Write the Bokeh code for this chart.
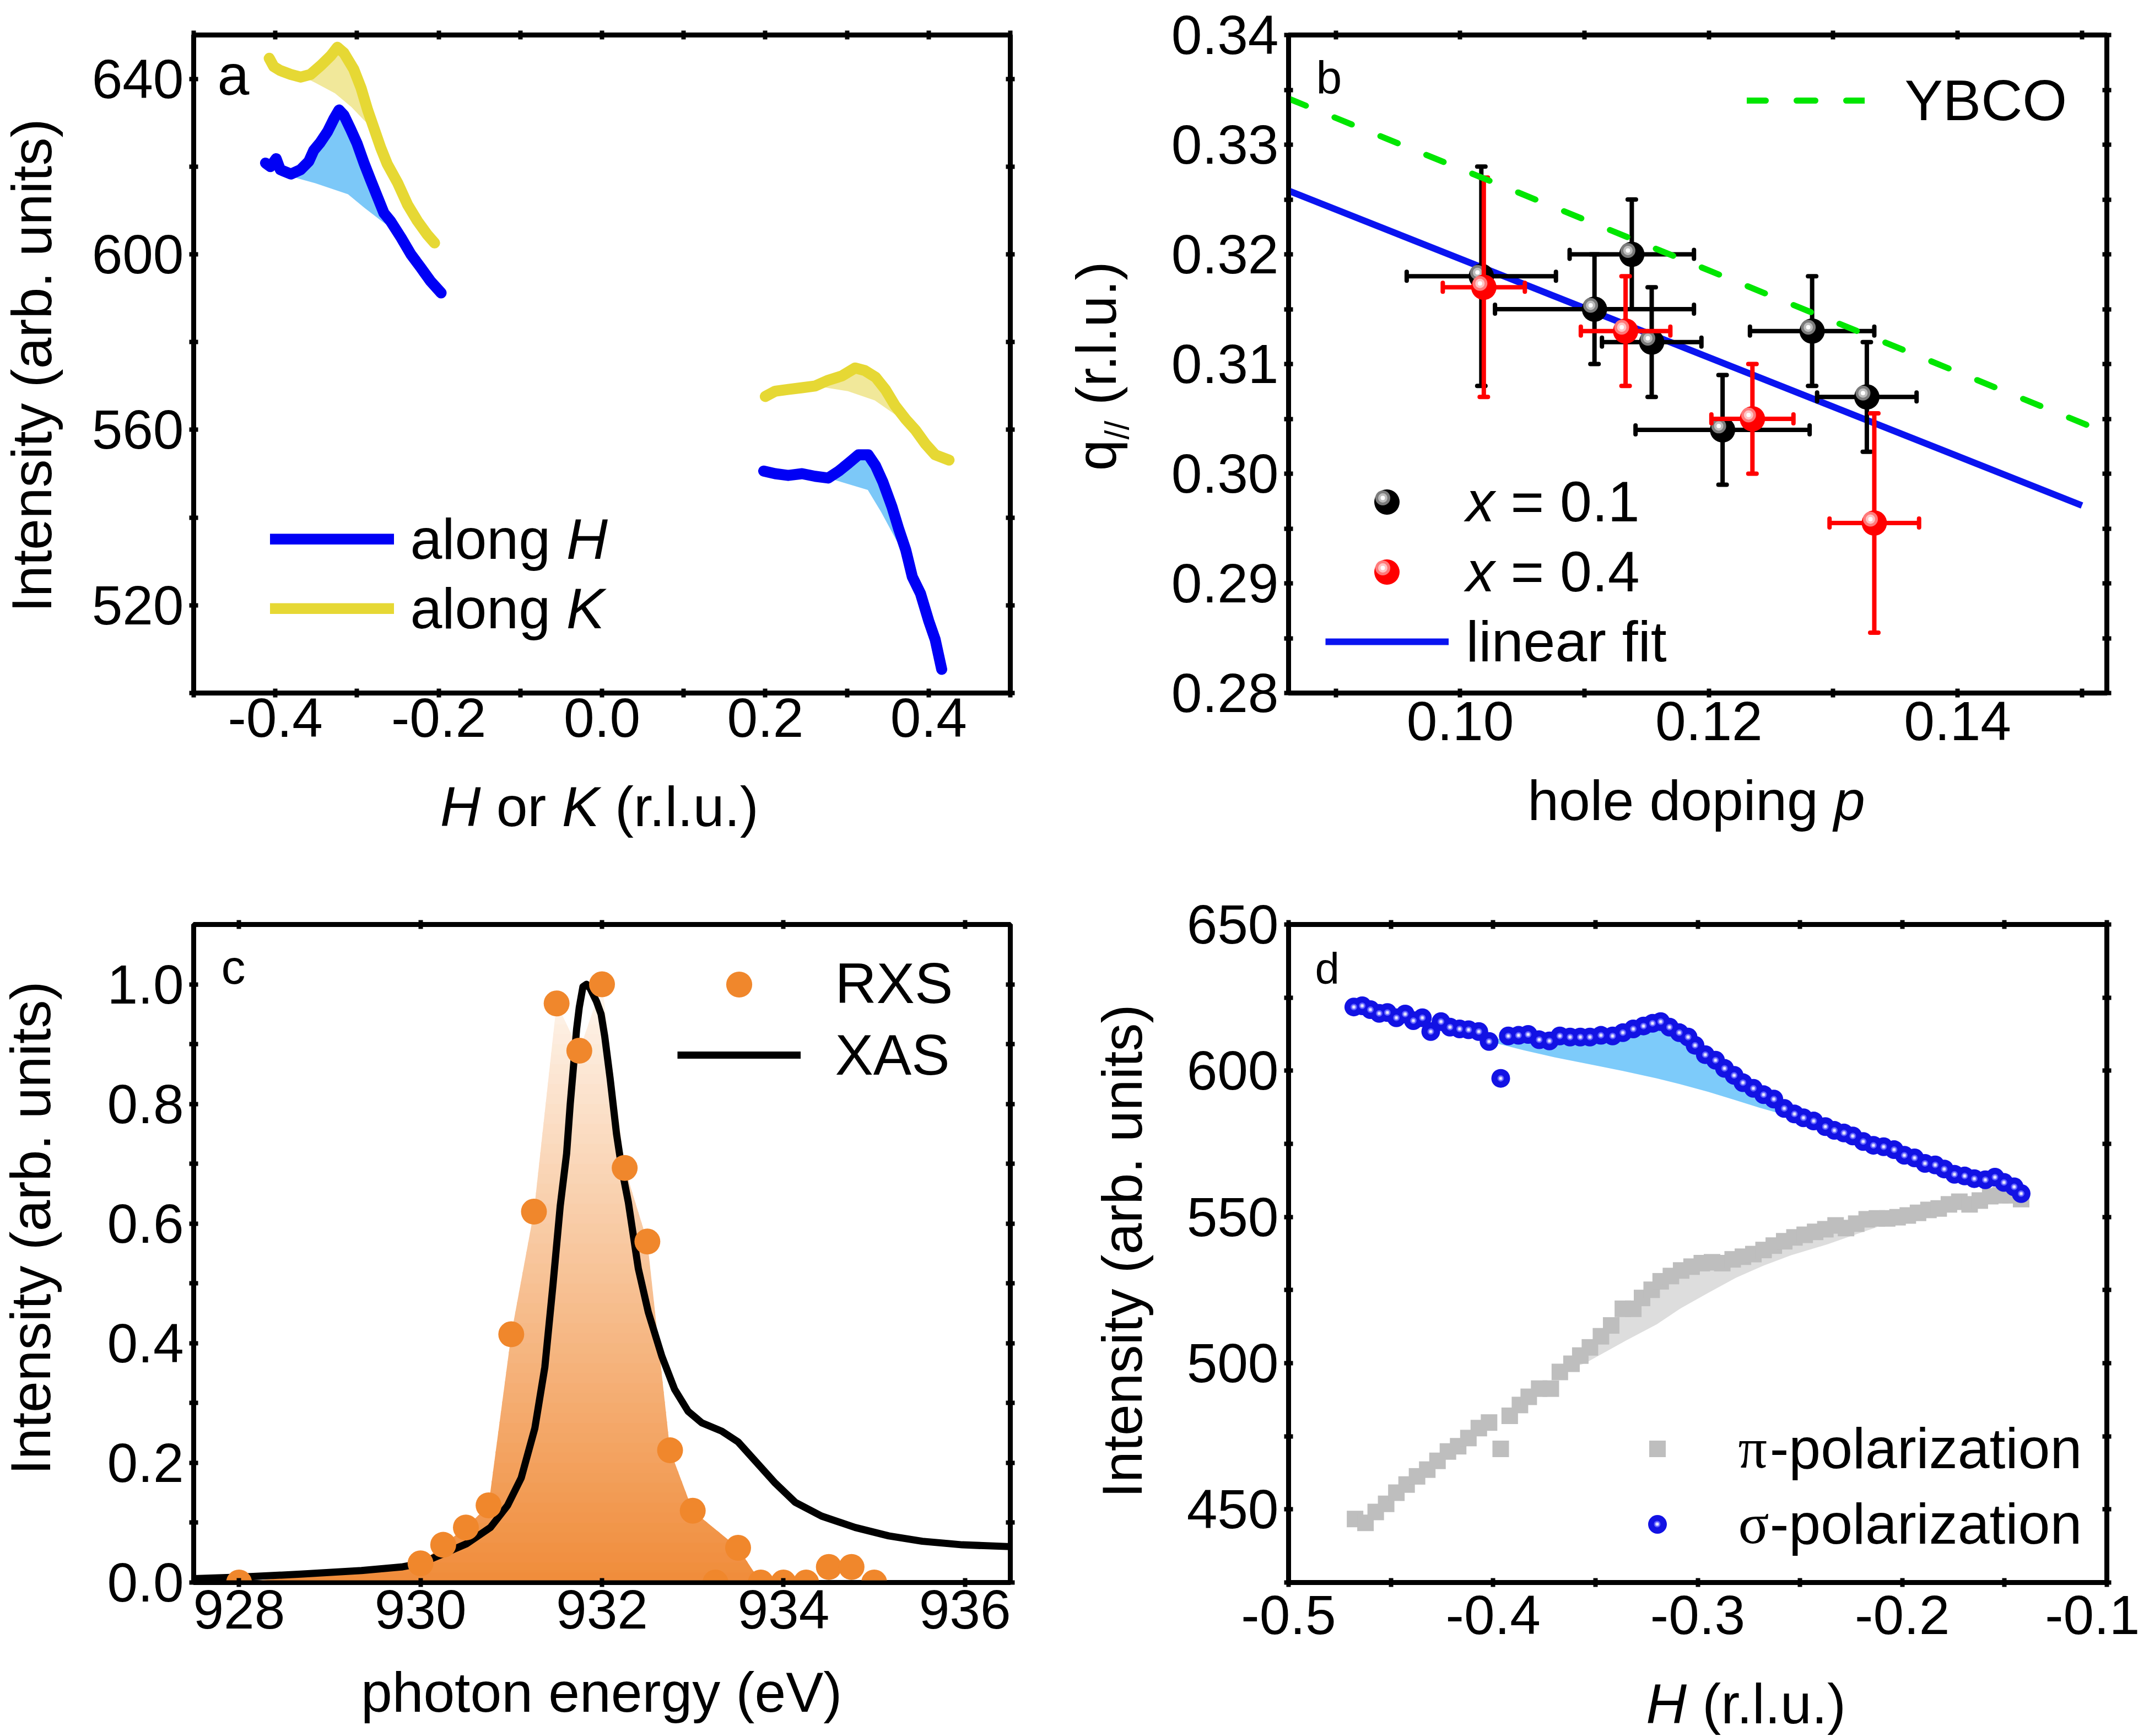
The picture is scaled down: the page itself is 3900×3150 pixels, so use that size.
import numpy as np
from bokeh.plotting import figure
from bokeh.layouts import column, row
from bokeh.models import (Range1d, LinearAxis, FixedTicker, PrintfTickFormatter,
                          CustomJSTickFormatter, Label, Legend, LegendItem)
from bokeh.core.properties import value
from bokeh.embed import file_html
from bokeh.resources import INLINE

SANS = "Liberation Sans"
SERIF = "Liberation Serif"

# ---------------- (a) scans along H and along K ----------------
a_negH_x = [-0.412, -0.406, -0.399, -0.394, -0.381, -0.369, -0.359, -0.353, -0.345, -0.336,
            -0.328, -0.322, -0.316, -0.308, -0.300, -0.291, -0.283, -0.275, -0.267, -0.259,
            -0.246, -0.234, -0.222, -0.210, -0.197]
a_negH_y = [620.8, 620.0, 621.8, 619.3, 618.3, 619.3, 621.2, 623.7, 625.5, 628.0,
            631.0, 632.9, 631.7, 628.6, 625.3, 620.6, 616.8, 613.1, 609.4, 607.6,
            603.8, 600.0, 597.0, 593.9, 591.2]
a_negK_x = [-0.4075, -0.402, -0.394, -0.381, -0.369, -0.357, -0.344, -0.332, -0.324, -0.316,
            -0.304, -0.295, -0.287, -0.279, -0.271, -0.263, -0.250, -0.238, -0.226, -0.214, -0.205]
a_negK_y = [644.7, 642.8, 641.9, 641.0, 640.4, 641.0, 643.1, 645.3, 647.2, 645.9,
            642.2, 637.9, 632.9, 628.6, 624.3, 620.6, 616.2, 611.3, 607.6, 604.5, 602.6]
a_posH_x = [0.198, 0.212, 0.228, 0.245, 0.261, 0.277, 0.290, 0.302, 0.314, 0.326,
            0.335, 0.344, 0.355, 0.363, 0.372, 0.380, 0.390, 0.400, 0.408, 0.416]
a_posH_y = [550.6, 550.0, 549.6, 550.0, 549.4, 549.0, 550.6, 552.4, 554.3, 554.3,
            551.8, 548.1, 542.5, 537.6, 532.6, 526.5, 522.7, 516.5, 512.2, 505.4]
a_posK_x = [0.200, 0.212, 0.228, 0.245, 0.261, 0.277, 0.294, 0.310, 0.322, 0.335,
            0.347, 0.359, 0.372, 0.384, 0.396, 0.408, 0.425]
a_posK_y = [567.6, 568.8, 569.2, 569.6, 570.0, 571.3, 572.3, 574.1, 573.5, 572.0,
            569.2, 565.5, 562.4, 559.9, 556.8, 554.3, 553.1]
# background under the CDW peaks
a_bg_negH_x = [-0.384, -0.351, -0.311, -0.291, -0.270, -0.250]
a_bg_negH_y = [617.9, 616.2, 613.7, 610.6, 607.6, 604.8]
a_bg_negK_x = [-0.364, -0.351, -0.327, -0.307, -0.291, -0.278]
a_bg_negK_y = [640.3, 639.1, 636.7, 633.6, 630.5, 628.2]
a_bg_posH_x = [0.277, 0.3255, 0.3417, 0.3579, 0.376]
a_bg_posH_y = [549.0, 546.3, 541.3, 535.7, 529.5]
a_bg_posK_x = [0.261, 0.301, 0.334, 0.358, 0.378]
a_bg_posK_y = [570.0, 568.8, 566.7, 563.6, 561.1]

# ---------------- (b) CDW wave vector versus hole doping ----------------
b_p_x01 = [0.1017, 0.1108, 0.1138, 0.1154, 0.1211, 0.1283, 0.1327]
b_q_x01 = [0.318, 0.315, 0.320, 0.312, 0.304, 0.313, 0.307]
b_dp_x01 = [0.006, 0.008, 0.005, 0.004, 0.007, 0.005, 0.004]
b_dq_x01 = [0.010, 0.005, 0.005, 0.005, 0.005, 0.005, 0.005]
b_p_x04 = [0.1019, 0.1133, 0.1235, 0.1333]
b_q_x04 = [0.317, 0.313, 0.305, 0.2955]
b_dp_x04 = [0.0033, 0.0036, 0.0033, 0.0036]
b_dq_x04 = [0.010, 0.005, 0.005, 0.010]
b_fit_p = [0.0862, 0.150]
b_fit_q = [0.3258, 0.2971]
b_ybco_p = [0.0862, 0.152]
b_ybco_q = [0.3342, 0.3037]

# ---------------- (c) energy dependence ----------------
c_xas_E = [927.5, 928.0, 928.68, 929.35, 929.79, 930.0, 930.22, 930.51, 930.77, 930.96,
           931.11, 931.26, 931.37, 931.46, 931.54, 931.61, 931.65, 931.69, 931.72, 931.75,
           931.79, 931.83, 931.87, 931.94, 931.99, 932.03, 932.09, 932.16, 932.22, 932.29,
           932.40, 932.51, 932.66, 932.80, 932.95, 933.10, 933.32, 933.50, 933.69, 933.91,
           934.13, 934.42, 934.79, 935.16, 935.53, 935.97, 936.5]
c_xas_I = [0.0065, 0.009, 0.014, 0.020, 0.026, 0.032, 0.046, 0.065, 0.092, 0.129,
           0.175, 0.258, 0.360, 0.498, 0.630, 0.717, 0.800, 0.870, 0.925, 0.962,
           0.996, 1.0, 0.993, 0.971, 0.950, 0.913, 0.842, 0.750, 0.690, 0.636,
           0.525, 0.452, 0.378, 0.323, 0.286, 0.267, 0.253, 0.235, 0.203, 0.166,
           0.134, 0.111, 0.092, 0.078, 0.069, 0.063, 0.060]
c_rxs_E = [928.0, 930.0, 930.25, 930.5, 930.75, 931.0, 931.25, 931.5, 931.75, 932.0, 932.25,
           932.5, 932.75, 933.0, 933.25, 933.5, 933.75, 934.0, 934.25, 934.5, 934.75, 935.0]
c_rxs_I = [0.0, 0.032, 0.063, 0.092, 0.129, 0.415, 0.62, 0.968, 0.889, 1.0, 0.693,
           0.57, 0.221, 0.12, 0.0, 0.058, 0.0, 0.0, 0.0, 0.026, 0.026, 0.0]

# ---------------- (d) polarization dependence ----------------
d_sig_H = [-0.4681, -0.464, -0.460, -0.4557, -0.4517, -0.4473, -0.443, -0.439, -0.4346, -0.4305,
           -0.4255, -0.4211, -0.4164, -0.412, -0.407, -0.402, -0.3963, -0.3926, -0.3876, -0.3829,
           -0.3775, -0.3725, -0.3674, -0.3624, -0.3574, -0.3527, -0.3473, -0.3416, -0.3366, -0.3315,
           -0.3265, -0.3221, -0.3181, -0.3138, -0.309, -0.3047, -0.3013, -0.2963, -0.2913, -0.2869,
           -0.2822, -0.2779, -0.2728, -0.2678, -0.2628, -0.2577, -0.2527, -0.2483, -0.2433, -0.2376,
           -0.2332, -0.2285, -0.2242, -0.2191, -0.2141, -0.2091, -0.204, -0.199, -0.194, -0.1889,
           -0.1839, -0.1795, -0.1745, -0.1695, -0.1648, -0.1594, -0.1547, -0.1503, -0.1453, -0.1419]
d_sig_I = [621.8, 622.2, 620.9, 619.6, 619.9, 618.1, 619.4, 617.1, 618.1, 613.4,
           616.8, 614.9, 614.3, 614.0, 613.4, 610.0, 597.4, 611.9, 612.1, 612.4,
           610.6, 610.2, 611.9, 611.5, 611.5, 611.5, 612.1, 611.9, 613.0, 614.3,
           615.3, 616.2, 616.8, 614.9, 613.0, 611.5, 608.7, 605.5, 603.6, 600.8,
           598.4, 595.9, 594.0, 591.8, 590.3, 587.1, 585.2, 583.9, 582.8, 580.9,
           579.6, 578.7, 577.7, 575.8, 574.5, 574.0, 573.0, 571.1, 570.2, 568.3,
           567.8, 566.4, 564.6, 564.0, 563.1, 562.7, 563.6, 561.8, 560.3, 558.0]
d_pi_H = [-0.4675, -0.4624, -0.4574, -0.4523, -0.4473, -0.4423, -0.4372, -0.4322, -0.4272, -0.4221,
          -0.4171, -0.4121, -0.4070, -0.4020, -0.3963, -0.3919, -0.3869, -0.3826, -0.3775, -0.3718,
          -0.3674, -0.3617, -0.3574, -0.3527, -0.3473, -0.3423, -0.3366, -0.3315, -0.3272, -0.3225,
          -0.3181, -0.3131, -0.3081, -0.3030, -0.2980, -0.2930, -0.2880, -0.2829, -0.2779, -0.2728,
          -0.2678, -0.2628, -0.2577, -0.2527, -0.2477, -0.2426, -0.2376, -0.2326, -0.2275, -0.2225,
          -0.2174, -0.2124, -0.2074, -0.2023, -0.1973, -0.1923, -0.1872, -0.1822, -0.1772, -0.1721,
          -0.1671, -0.1621, -0.1570, -0.1520, -0.1470, -0.1419]
d_pi_I = [446.7, 445.4, 449.1, 451.9, 455.7, 458.5, 461.3, 463.6, 466.6, 469.8,
          471.6, 474.4, 477.8, 479.7, 470.7, 482.0, 485.7, 488.5, 491.3, 491.3,
          497.0, 499.8, 502.6, 505.4, 509.2, 512.9, 518.6, 518.6, 522.3, 525.1,
          528.0, 529.8, 531.7, 533.0, 534.2, 534.5, 534.2, 535.5, 536.4, 537.3,
          538.7, 540.2, 541.7, 543.0, 543.9, 544.9, 545.8, 547.1, 546.2, 547.7,
          549.2, 549.5, 549.5, 549.9, 550.5, 551.4, 552.4, 552.9, 554.3, 555.2,
          554.3, 555.6, 557.1, 557.4, 557.4, 556.1]
d_bg_sig_H = [-0.402, -0.385, -0.370, -0.350, -0.3366, -0.320, -0.3097, -0.295, -0.2829, -0.270, -0.256, -0.2483]
d_bg_sig_I = [610.0, 607.0, 604.6, 601.8, 599.9, 597.4, 595.6, 592.8, 590.2, 587.4, 584.6, 583.9]
d_bg_pi_H = [-0.3674, -0.355, -0.3352, -0.320, -0.3082, -0.295, -0.2813, -0.268, -0.2544, -0.2363, -0.225, -0.2124]
d_bg_pi_I = [497.0, 500.0, 507.7, 513.3, 518.8, 524.0, 529.2, 533.3, 536.9, 540.7, 543.5, 546.5]

# ---------------- page geometry (px, from the top-left of the page) ----------------
FH = 1194
TOP1, BOT1 = 63, 135      # borders above / below the frames of the upper row
TOP2, BOT2 = 110, 142     # ... and of the lower row
ROW1_H = TOP1 + FH + BOT1
ROW2_Y = 1677 - TOP2
XSTRIP1_H = ROW2_Y - ROW1_H
ROW2_H = TOP2 + FH + BOT2
XSTRIP2_Y = ROW2_Y + ROW2_H
XSTRIP2_H = 3150 - XSTRIP2_Y

FRAME_A = (351, TOP1, 1482, FH)     # left, top, width, height of each data frame
FRAME_B = (2338, TOP1, 1485, FH)
FRAME_C = (351, ROW2_Y + TOP2, 1482, FH)
FRAME_D = (2338, ROW2_Y + TOP2, 1485, FH)
BORDER_A = (221, 40, TOP1, BOT1)     # left, right, top, bottom borders of each panel
BORDER_B = (235, 60, TOP1, BOT1)
BORDER_C = (221, 40, TOP2, BOT2)
BORDER_D = (235, 60, TOP2, BOT2)
YA_W, YB_W = 130, 230               # widths of the strips holding the y titles

# Arial-compatible advance widths (em) used to place mixed-style text runs
CW = {' ': .278, '(': .333, ')': .333, '.': .278, '-': .333, '=': .584, '/': .278,
      'a': .556, 'b': .556, 'c': .5, 'd': .556, 'e': .556, 'f': .278, 'g': .556, 'h': .556,
      'i': .222, 'j': .222, 'k': .5, 'l': .222, 'm': .833, 'n': .556, 'o': .556, 'p': .556,
      'q': .556, 'r': .333, 's': .5, 't': .278, 'u': .556, 'v': .5, 'w': .722, 'x': .5,
      'y': .5, 'z': .5, 'A': .667, 'B': .667, 'C': .722, 'E': .667, 'H': .722, 'I': .278,
      'K': .667, 'O': .778, 'R': .722, 'S': .667, 'V': .667, 'X': .667, 'Y': .667,
      '\u03c0': .55, '\u03c3': .55}
MID = 0.355   # distance from baseline to the middle of capitals, in em


def text_width(s):
    return sum(CW.get(ch, 0.556) for ch in s)


def N(t, font=SANS):
    return (t, "normal", font, 1.0, 0.0)


def It(t):
    return (t, "italic", SANS, 1.0, 0.0)


def put_text(p, region, pieces, cx, cy, size, anchor="left", vertical=False):
    """Place a run of text pieces; (cx, cy) is the page position of the baseline.
    region is the page box (left, top, width, height) of the plot frame of p."""
    rl, rt, rw, rh = region
    rb = rt + rh
    widths = [text_width(t) * size * sc for (t, st, f, sc, sh) in pieces]
    total = sum(widths)
    pos = -total / 2 if anchor == "center" else 0.0
    for (t, st, f, sc, sh), w in zip(pieces, widths):
        lead = text_width(t[:len(t) - len(t.lstrip())]) * size * sc
        s = t.strip()
        if vertical:
            x = cx - rl + sh * size - MID * size * sc
            y = (rb - cy) + pos + lead
            ang = np.pi / 2
        else:
            x = cx - rl + pos + lead
            y = (rb - cy) - sh * size + MID * size * sc
            ang = 0.0
        p.add_layout(Label(x=x, y=y, x_units="screen", y_units="screen", text=s,
                           text_font=f, text_font_style=st,
                           text_font_size=f"{size * sc:.1f}px", text_color="black",
                           text_align="left", text_baseline="middle", angle=ang))
        pos += w


def key(p, frame, renderers, cx, cy, gw, gh):
    """Legend swatch of the given renderers centred on a page position."""
    fl, ft, fw, fh = frame
    fb = ft + fh
    gw, gh = int(round(gw)), int(round(gh))
    leg = Legend(items=[LegendItem(label=value(""), renderers=renderers)],
                 location=(cx - fl - gw / 2, fb - cy - gh / 2),
                 glyph_width=gw, glyph_height=gh, padding=0, margin=0, spacing=0,
                 label_standoff=0, label_width=0, label_height=0,
                 label_text_font_size="1px", border_line_color=None,
                 background_fill_color=None)
    p.add_layout(leg)


def make_panel(xr, yr, frame, border):
    fl, ft, fw, fh = frame
    bl, br, bt, bb = border
    p = figure(x_range=Range1d(*xr), y_range=Range1d(*yr), frame_width=fw, frame_height=fh,
               min_border_left=bl, min_border_right=br, min_border_top=bt, min_border_bottom=bb,
               output_backend="svg", toolbar_location=None,
               background_fill_color="white", border_fill_color="white",
               outline_line_color="black", outline_line_width=9)
    p.grid.visible = False
    p.add_layout(LinearAxis(), "above")
    p.add_layout(LinearAxis(), "right")
    return p


def make_strip(w, h, top=0, bottom=0):
    """Blank figure that only carries text; its frame spans the full width."""
    s = figure(frame_width=w, frame_height=h - top - bottom,
               x_range=Range1d(0, w), y_range=Range1d(0, h - top - bottom),
               min_border_left=0, min_border_right=0, min_border_top=top,
               min_border_bottom=bottom, output_backend="svg", toolbar_location=None,
               x_axis_type=None, y_axis_type=None, outline_line_color=None,
               background_fill_color="white", border_fill_color="white")
    s.grid.visible = False
    return s


def set_axes(p, xt, xm, xfmt, yt, ym, yfmt, xstand, ystand=10):
    for ax in p.xaxis:
        ax.ticker = FixedTicker(ticks=xt, minor_ticks=xm)
    for ax in p.yaxis:
        ax.ticker = FixedTicker(ticks=yt, minor_ticks=ym)
    for ax in p.axis:
        ax.axis_line_color = "black"
        ax.axis_line_width = 8
        ax.major_tick_line_color = "black"
        ax.major_tick_line_width = 8
        ax.major_tick_in = 8
        ax.major_tick_out = 8
        ax.minor_tick_line_color = "black"
        ax.minor_tick_line_width = 8
        ax.minor_tick_in = 8
        ax.minor_tick_out = 8
        ax.major_label_text_font = SANS
        ax.major_label_text_color = "black"
        ax.major_label_text_font_size = "100px"
    p.below[0].formatter = PrintfTickFormatter(format=xfmt)
    p.below[0].major_label_standoff = xstand
    p.left[0].formatter = PrintfTickFormatter(format=yfmt)
    p.left[0].major_label_standoff = ystand
    for ax in (p.above[0], p.right[0]):
        ax.formatter = CustomJSTickFormatter(code="return ''")
        ax.major_label_text_font_size = "1px"
        ax.major_label_standoff = 0


def shade_peak(p, x, y, bx, by, color):
    """Fill between a scan and its smooth background."""
    x, y, bx, by = map(np.asarray, (x, y, bx, by))
    base = np.interp(x, bx, by)
    m = (x > bx[0]) & (x < bx[-1]) & (y >= base)
    px = np.concatenate([[bx[0]], x[m], [bx[-1]], bx[::-1]])
    py = np.concatenate([[by[0]], y[m], [by[-1]], by[::-1]])
    p.patch(px, py, fill_color=color, line_color=None)


def sphere(p, x, y, size, base, rings, dx=0.0, dy=0.0):
    r0 = p.scatter(x, y, size=size, marker="circle", fill_color=base, line_color=None)
    hx = [v + dx for v in x]
    hy = [v + dy for v in y]
    rs = [p.scatter(hx, hy, size=s, marker="circle", fill_color=c, line_color=None)
          for s, c in rings]
    return r0, rs


def sphere_key(p, frame, r0, rs, rings, size, cx, cy, off=0.0):
    key(p, frame, [r0], cx, cy, size / 0.4, size / 0.4)
    for r, (s, c) in zip(rs, rings):
        key(p, frame, [r], cx + off, cy + off, s / 0.4, s / 0.4)


def err_bars(p, x, y, dx, dy, color):
    x, y, dx, dy = map(np.asarray, (x, y, dx, dy))
    p.segment(x0=x - dx, y0=y, x1=x + dx, y1=y, line_color=color, line_width=8)
    p.segment(x0=x, y0=y - dy, x1=x, y1=y + dy, line_color=color, line_width=8)
    p.scatter(np.r_[x - dx, x + dx], np.r_[y, y], marker="dash", angle=np.pi / 2, size=16,
              line_color=color, line_width=8, line_cap="round")
    p.scatter(np.r_[x, x], np.r_[y - dy, y + dy], marker="dash", size=15,
              line_color=color, line_width=8, line_cap="round")


BLUE = "#0000F5"
YELLOW = "#E6D834"

# ================= panel a =================
pa = make_panel((-0.5, 0.5), (500, 650), FRAME_A, BORDER_A)
set_axes(pa, [-0.4, -0.2, 0.0, 0.2, 0.4], [-0.5, -0.3, -0.1, 0.1, 0.3, 0.5], "%.1f",
         [520, 560, 600, 640], [500, 540, 580, 620], "%d", xstand=2)
shade_peak(pa, a_negK_x, a_negK_y, a_bg_negK_x, a_bg_negK_y, "#F1E89A")
shade_peak(pa, a_posK_x, a_posK_y, a_bg_posK_x, a_bg_posK_y, "#F1E89A")
shade_peak(pa, a_negH_x, a_negH_y, a_bg_negH_x, a_bg_negH_y, "#7CC8F8")
shade_peak(pa, a_posH_x, a_posH_y, a_bg_posH_x, a_bg_posH_y, "#7CC8F8")
lk = pa.line(a_negK_x, a_negK_y, line_color=YELLOW, line_width=20, line_cap="round", line_join="round")
pa.line(a_posK_x, a_posK_y, line_color=YELLOW, line_width=20, line_cap="round", line_join="round")
lh = pa.line(a_negH_x, a_negH_y, line_color=BLUE, line_width=20, line_cap="round", line_join="round")
pa.line(a_posH_x, a_posH_y, line_color=BLUE, line_width=20, line_cap="round", line_join="round")
key(pa, FRAME_A, [lh], 602, 978, 225, 20)
key(pa, FRAME_A, [lk], 602, 1104, 225, 20)
put_text(pa, FRAME_A, [N("along "), It("H")], 744, 1014, 104)
put_text(pa, FRAME_A, [N("along "), It("K")], 744, 1140, 104)
put_text(pa, FRAME_A, [N("a")], 394, 172, 104)

# ================= panel b =================
xr_b, yr_b = (0.0862, 0.152), (0.28, 0.34)
pb = make_panel(xr_b, yr_b, FRAME_B, BORDER_B)
set_axes(pb, [0.10, 0.12, 0.14], [0.09, 0.11, 0.13, 0.15], "%.2f",
         [0.28, 0.29, 0.30, 0.31, 0.32, 0.33, 0.34],
         [0.285, 0.295, 0.305, 0.315, 0.325, 0.335], "%.2f", xstand=8)
hl_dx = -7 * (xr_b[1] - xr_b[0]) / FRAME_B[2]
hl_dy = 7 * (yr_b[1] - yr_b[0]) / FH
fit = pb.line(b_fit_p, b_fit_q, line_color="#0A14F0", line_width=12)
BLACK_RINGS = [(27, "#7C7C7C"), (17, "#BDBDBD"), (8, "#FFFFFF")]
RED_RINGS = [(27, "#FF7A7A"), (17, "#FFC4C4"), (8, "#FFFFFF")]
err_bars(pb, b_p_x01, b_q_x01, b_dp_x01, b_dq_x01, "black")
k0, kr = sphere(pb, b_p_x01, b_q_x01, 46, "black", BLACK_RINGS, hl_dx, hl_dy)
err_bars(pb, b_p_x04, b_q_x04, b_dp_x04, b_dq_x04, "#FF0000")
r0, rr = sphere(pb, b_p_x04, b_q_x04, 46, "#FF0000", RED_RINGS, hl_dx, hl_dy)
yb = pb.line(b_ybco_p, b_ybco_q, line_color="#00E600", line_width=11, line_dash="34 56",
             line_cap="round")
sphere_key(pb, FRAME_B, k0, kr, BLACK_RINGS, 46, 2516, 910, -7)
sphere_key(pb, FRAME_B, r0, rr, RED_RINGS, 46, 2516, 1037, -7)
key(pb, FRAME_B, [fit], 2517, 1164, 224, 20)
key(pb, FRAME_B, [yb], 3277, 182, 214, 20)
put_text(pb, FRAME_B, [It("x"), N(" = 0.1")], 2660, 946, 104)
put_text(pb, FRAME_B, [It("x"), N(" = 0.4")], 2660, 1073, 104)
put_text(pb, FRAME_B, [N("linear fit")], 2660, 1200, 104)
put_text(pb, FRAME_B, [N("YBCO")], 3456, 218, 104)
put_text(pb, FRAME_B, [N("b")], 2388, 170, 84)

# ================= panel c =================
pc = make_panel((927.5, 936.5), (0.0, 1.1), FRAME_C, BORDER_C)
set_axes(pc, [928, 930, 932, 934, 936], [], "%d",
         [0.0, 0.2, 0.4, 0.6, 0.8, 1.0], [0.1, 0.3, 0.5, 0.7, 0.9], "%.1f", xstand=6)
# RXS envelope (interior zero readings dropped), filled with a vertical colour ramp
last = max(k for k, e in enumerate(c_rxs_E) if e <= 933.75)
sel = [k for k in range(last + 1) if c_rxs_I[k] > 0 or k in (0, last)]
env_E = np.array([c_rxs_E[k] for k in sel])
env_I = np.array([c_rxs_I[k] for k in sel])
xs = np.union1d(np.linspace(env_E[0], env_E[-1], 2400), env_E)
ys = np.interp(xs, env_E, env_I)
bottom_rgb = np.array([240, 140, 58])
top_rgb = np.array([254, 246, 238])
NB = 60
top = env_I.max()
for k in range(NB):
    lo, hi = top * k / NB, top * (k + 1) / NB
    rgb = bottom_rgb + (top_rgb - bottom_rgb) * ((k + 0.5) / NB)
    col = "#%02x%02x%02x" % tuple(int(round(v)) for v in rgb)
    pc.varea(x=xs, y1=np.minimum(ys, lo), y2=np.minimum(ys, hi + top * 0.003), fill_color=col)
xas = pc.line(c_xas_E, c_xas_I, line_color="black", line_width=13, line_join="round")
rxs = pc.scatter(c_rxs_E, c_rxs_I, size=47, marker="circle", fill_color="#F0872C", line_color=None)
key(pc, FRAME_C, [rxs], 1341, 1786, 117.5, 117.5)
key(pc, FRAME_C, [xas], 1341, 1914, 224, 20)
put_text(pc, FRAME_C, [N("RXS")], 1515, 1820, 104)
put_text(pc, FRAME_C, [N("XAS")], 1515, 1950, 104)
put_text(pc, FRAME_C, [N("c")], 401, 1785, 88)

# ================= panel d =================
pd_ = make_panel((-0.5, -0.1), (425, 650), FRAME_D, BORDER_D)
set_axes(pd_, [-0.5, -0.4, -0.3, -0.2, -0.1], [-0.45, -0.35, -0.25, -0.15], "%.1f",
         [450, 500, 550, 600, 650], [425, 475, 525, 575, 625], "%d", xstand=16)
shade_peak(pd_, d_sig_H, d_sig_I, d_bg_sig_H, d_bg_sig_I, "#7DCBFA")
shade_peak(pd_, d_pi_H, d_pi_I, d_bg_pi_H, d_bg_pi_I, "#DDDDDD")
sq = pd_.scatter(d_pi_H, d_pi_I, size=30, marker="square", fill_color="#BEBEBE", line_color=None)
SIG_RINGS = [(12, "#5A5AFF"), (7, "#C4C4FF"), (3, "#FFFFFF")]
s0, sr = sphere(pd_, d_sig_H, d_sig_I, 34, "#1212E4", SIG_RINGS)
key(pd_, FRAME_D, [sq], 3007, 2628, 75, 75)
sphere_key(pd_, FRAME_D, s0, sr, SIG_RINGS, 34, 3007, 2765)
put_text(pd_, FRAME_D, [N("\u03c0", SERIF), N("-polarization")], 3154, 2664, 104)
put_text(pd_, FRAME_D, [N("\u03c3", SERIF), N("-polarization")], 3154, 2801, 104)
put_text(pd_, FRAME_D, [N("d")], 2386, 1785, 80)

# ================= axis titles =================
YB_X = 351 + 1482 + 40
ya = make_strip(YA_W, ROW1_H, TOP1, BOT1)
put_text(ya, (0, TOP1, YA_W, FH), [N("Intensity (arb. units)")], 94, 663, 102,
         "center", vertical=True)
ybs = make_strip(YB_W, ROW1_H, TOP1, BOT1)
put_text(ybs, (YB_X, TOP1, YB_W, FH),
         [N("q"), ("//", "normal", SANS, 0.6, 0.22), N(" (r.l.u.)")],
         2026, 661, 102, "center", vertical=True)
yc = make_strip(YA_W, ROW2_H, TOP2, BOT2)
put_text(yc, (0, ROW2_Y + TOP2, YA_W, FH), [N("Intensity (arb. units)")], 92, 2228, 102,
         "center", vertical=True)
yd = make_strip(YB_W, ROW2_H, TOP2, BOT2)
put_text(yd, (YB_X, ROW2_Y + TOP2, YB_W, FH), [N("Intensity (arb. units)")],
         2073, 2270, 102, "center", vertical=True)
x1 = make_strip(3883, XSTRIP1_H)
X1_BOX = (0, ROW1_H, 3883, XSTRIP1_H)
put_text(x1, X1_BOX, [It("H"), N(" or "), It("K"), N(" (r.l.u.)")], 1090, 1500, 102, "center")
put_text(x1, X1_BOX, [N("hole doping "), It("p")], 3078, 1489, 102, "center")
x2 = make_strip(3883, XSTRIP2_H)
X2_BOX = (0, XSTRIP2_Y, 3883, XSTRIP2_H)
put_text(x2, X2_BOX, [N("photon energy (eV)")], 1091, 3107, 102, "center")
put_text(x2, X2_BOX, [It("H"), N(" (r.l.u.)")], 3171, 3128, 102, "center")

layout = column(row(ya, pa, ybs, pb), x1, row(yc, pc, yd, pd_), x2)
open("out.html", "w").write(file_html(layout, INLINE))
